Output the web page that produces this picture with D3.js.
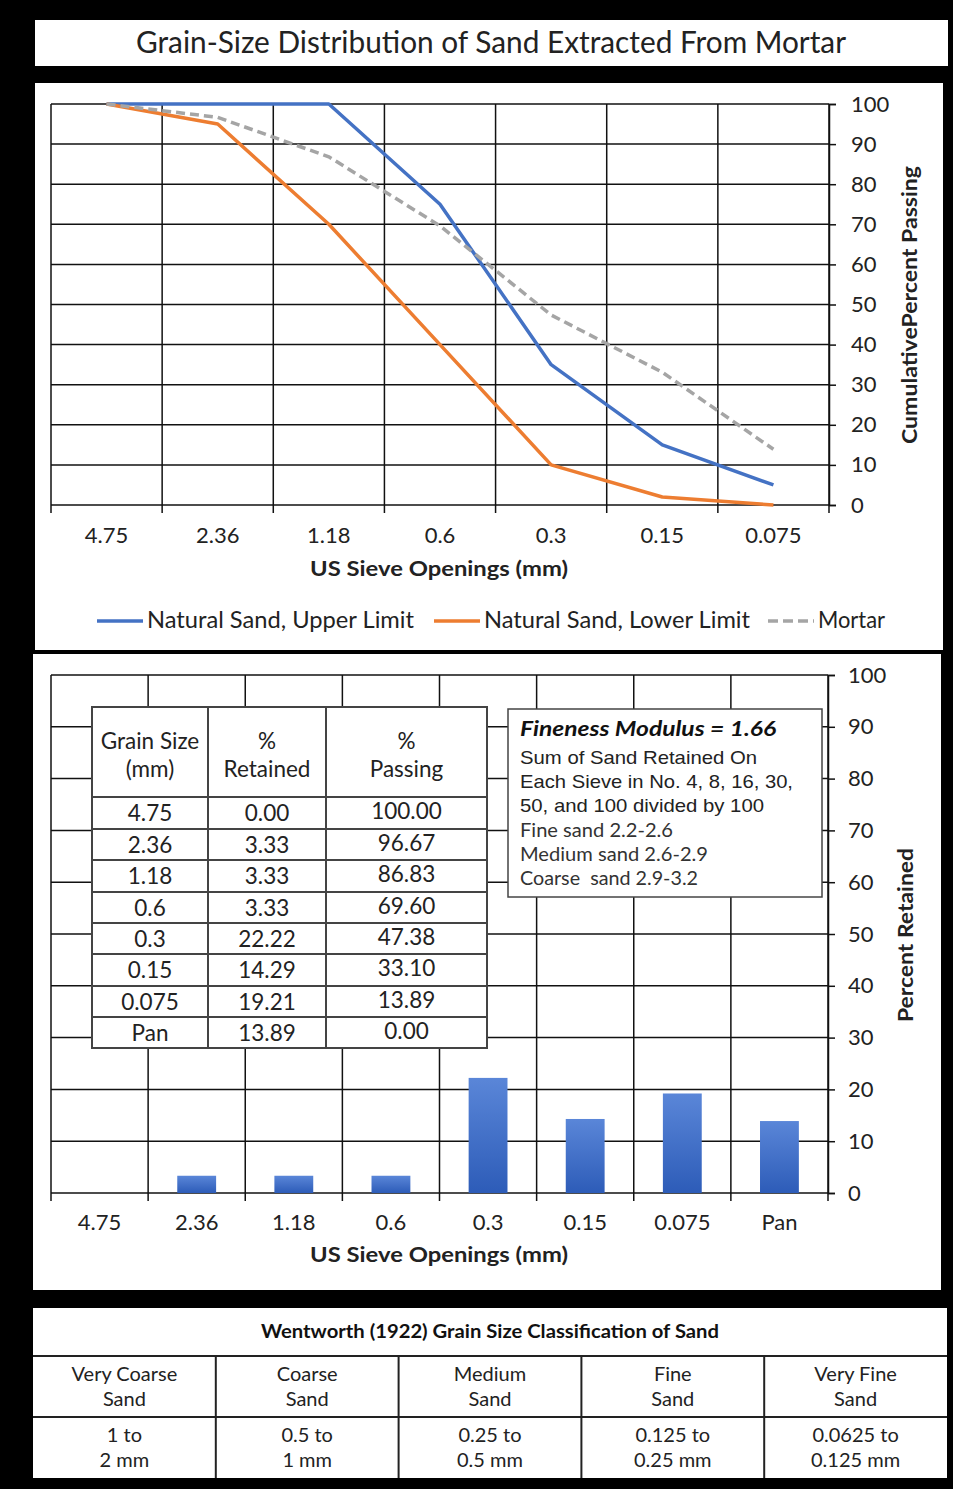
<!DOCTYPE html>
<html><head><meta charset="utf-8">
<script src="https://cdn.jsdelivr.net/npm/d3@7"></script>
<style>
html,body{margin:0;padding:0;background:#000;}
svg{display:block;}
</style></head>
<body>
<svg id="chart" width="953" height="1489" font-family="Lato, 'Open Sans', sans-serif"></svg>
<script>
// ---------- DATA ----------
const chartTitle = "Grain-Size Distribution of Sand Extracted From Mortar";
const sieves = ["4.75","2.36","1.18","0.6","0.3","0.15","0.075"];
const upperLimit = [100,100,100,75,35,15,5];
const lowerLimit = [100,95,70,40,10,2,0];
const mortarPassing = [100,96.67,86.83,69.60,47.38,33.10,13.89];
const seriesNames = ["Natural Sand, Upper Limit","Natural Sand, Lower Limit","Mortar"];
const retainedCats = ["4.75","2.36","1.18","0.6","0.3","0.15","0.075","Pan"];
const retained = [0.00,3.33,3.33,3.33,22.22,14.29,19.21,13.89];
const passing = [100.00,96.67,86.83,69.60,47.38,33.10,13.89,0.00];
const yTicks = [0,10,20,30,40,50,60,70,80,90,100];
const tableHeaders = [["Grain Size","(mm)"],["%","Retained"],["%","Passing"]];
const fmLines = ["Sum of Sand Retained On","Each Sieve in No. 4, 8, 16, 30,","50, and 100 divided by 100"];
const fmRanges = ["Fine sand 2.2-2.6","Medium sand 2.6-2.9","Coarse  sand 2.9-3.2"];
const finenessModulus = 1.66;
const wentworthTitle = "Wentworth (1922) Grain Size Classification of Sand";
const wentClasses = [["Very Coarse","Sand"],["Coarse","Sand"],["Medium","Sand"],["Fine","Sand"],["Very Fine","Sand"]];
const wentRanges = [["1 to","2 mm"],["0.5 to","1 mm"],["0.25 to","0.5 mm"],["0.125 to","0.25 mm"],["0.0625 to","0.125 mm"]];

// ---------- SETUP ----------
const svg = d3.select("#chart");
const ink = "#222";
const colors = {upper:"#4472c4", lower:"#ed7d31", mortar:"#a5a5a5"};

svg.append("rect").attr("x",35).attr("y",20).attr("width",913).attr("height",46).attr("fill","#fff");
svg.append("rect").attr("x",35).attr("y",83).attr("width",908).attr("height",567).attr("fill","#fff");
svg.append("rect").attr("x",33).attr("y",654).attr("width",908).attr("height",636).attr("fill","#fff");
svg.append("rect").attr("x",33).attr("y",1308).attr("width",914).attr("height",170).attr("fill","#fff");

svg.append("text").attr("x",491).attr("y",53).attr("text-anchor","middle").attr("fill",ink)
  .attr("font-size",30).attr("textLength",710).attr("lengthAdjust","spacingAndGlyphs")
  .text(chartTitle);

function styleAxis(a){
  a.select(".domain").attr("stroke","#111").attr("stroke-width",1.5);
  a.selectAll(".tick line").attr("stroke","#111").attr("stroke-width",1.5);
  a.selectAll("text").attr("font-size",22).attr("font-family","Lato").attr("fill",ink);
}

// ---------- TOP CHART ----------
const tx = d3.scaleBand().domain(sieves).range([51,829]);
const ty = d3.scaleLinear().domain([0,100]).range([505,104]);
const topG = svg.append("g");

topG.append("g").selectAll("line").data(yTicks).join("line")
  .attr("x1",tx.range()[0]).attr("x2",tx.range()[1])
  .attr("y1",d=>ty(d)).attr("y2",d=>ty(d))
  .attr("stroke","#111").attr("stroke-width",1.5);
const tBounds = sieves.map(s=>tx(s)).concat([tx.range()[1]]);
topG.append("g").selectAll("line").data(tBounds).join("line")
  .attr("x1",d=>d).attr("x2",d=>d).attr("y1",ty(100)).attr("y2",ty(0)+8)
  .attr("stroke","#111").attr("stroke-width",1.5);
const tAxis = topG.append("g").attr("transform",`translate(${tx.range()[1]},0)`)
  .call(d3.axisRight(ty).tickValues(yTicks).tickSize(7).tickPadding(15));
styleAxis(tAxis);
topG.append("g").selectAll("text").data(sieves).join("text")
  .attr("x",d=>tx(d)+tx.bandwidth()/2).attr("y",543).attr("text-anchor","middle").attr("fill",ink)
  .attr("font-size",22).text(d=>d);
topG.append("text").attr("x",439).attr("y",576).attr("text-anchor","middle").attr("fill",ink)
  .attr("font-size",21).attr("font-weight","bold").attr("textLength",258).attr("lengthAdjust","spacingAndGlyphs")
  .text("US Sieve Openings (mm)");
topG.append("text").attr("transform","translate(917,305) rotate(-90)").attr("text-anchor","middle").attr("fill",ink)
  .attr("font-size",21).attr("font-weight","bold").attr("textLength",278).attr("lengthAdjust","spacingAndGlyphs")
  .text("CumulativePercent Passing");

const line = d3.line().x((d,i)=>tx(sieves[i])+tx.bandwidth()/2).y(d=>ty(d));
topG.append("path").attr("d",line(upperLimit)).attr("fill","none").attr("stroke",colors.upper).attr("stroke-width",3.5).attr("stroke-linejoin","round");
topG.append("path").attr("d",line(lowerLimit)).attr("fill","none").attr("stroke",colors.lower).attr("stroke-width",3.5).attr("stroke-linejoin","round");
topG.append("path").attr("d",line(mortarPassing)).attr("fill","none").attr("stroke",colors.mortar).attr("stroke-width",3.5).attr("stroke-dasharray","9,5");

const legendItems = [
  {name:seriesNames[0], color:colors.upper, dash:null, x:97, w:267},
  {name:seriesNames[1], color:colors.lower, dash:null, x:434, w:266},
  {name:seriesNames[2], color:colors.mortar, dash:"10,5", x:768, w:67}
];
const lg = topG.append("g").selectAll("g").data(legendItems).join("g");
lg.append("line").attr("x1",d=>d.x).attr("x2",d=>d.x+46).attr("y1",621).attr("y2",621)
  .attr("stroke",d=>d.color).attr("stroke-width",3.5).attr("stroke-dasharray",d=>d.dash);
lg.append("text").attr("x",d=>d.x+50).attr("y",628).attr("font-size",23).attr("fill",ink)
  .attr("textLength",d=>d.w).attr("lengthAdjust","spacingAndGlyphs").text(d=>d.name);

// ---------- BOTTOM CHART ----------
const bx = d3.scaleBand().domain(retainedCats).range([51,828]);
const by = d3.scaleLinear().domain([0,100]).range([1193,675]);
const botG = svg.append("g");

const defs = svg.append("defs");
const grad = defs.append("linearGradient").attr("id","barGrad").attr("x1",0).attr("x2",0).attr("y1",0).attr("y2",1);
grad.append("stop").attr("offset","0%").attr("stop-color","#5a86d8");
grad.append("stop").attr("offset","100%").attr("stop-color","#2d5cb8");

botG.append("g").selectAll("line").data(yTicks).join("line")
  .attr("x1",bx.range()[0]).attr("x2",bx.range()[1])
  .attr("y1",d=>by(d)).attr("y2",d=>by(d))
  .attr("stroke","#111").attr("stroke-width",1.5);
const bBounds = retainedCats.map(s=>bx(s)).concat([bx.range()[1]]);
botG.append("g").selectAll("line").data(bBounds).join("line")
  .attr("x1",d=>d).attr("x2",d=>d).attr("y1",by(100)).attr("y2",by(0)+8)
  .attr("stroke","#111").attr("stroke-width",1.5);
const bAxis = botG.append("g").attr("transform",`translate(${bx.range()[1]},0)`)
  .call(d3.axisRight(by).tickValues(yTicks).tickSize(7).tickPadding(13));
styleAxis(bAxis);

botG.append("g").selectAll("rect").data(retained).join("rect")
  .attr("x",(d,i)=>bx(retainedCats[i])+bx.bandwidth()*0.3)
  .attr("width",bx.bandwidth()*0.4)
  .attr("y",d=>by(d)).attr("height",d=>by(0)-by(d))
  .attr("fill","url(#barGrad)");

botG.append("g").selectAll("text").data(retainedCats).join("text")
  .attr("x",d=>bx(d)+bx.bandwidth()/2).attr("y",1230).attr("text-anchor","middle").attr("fill",ink)
  .attr("font-size",22).text(d=>d);
botG.append("text").attr("x",439).attr("y",1262).attr("text-anchor","middle").attr("fill",ink)
  .attr("font-size",21).attr("font-weight","bold").attr("textLength",258).attr("lengthAdjust","spacingAndGlyphs")
  .text("US Sieve Openings (mm)");
botG.append("text").attr("transform","translate(913,935) rotate(-90)").attr("text-anchor","middle").attr("fill",ink)
  .attr("font-size",21).attr("font-weight","bold").attr("textLength",174).attr("lengthAdjust","spacingAndGlyphs")
  .text("Percent Retained");

const tbl = botG.append("g");
const colX = [92,208,326,487];
const rowY = [797,829,860,892,923,954,986,1017,1048];
tbl.append("rect").attr("x",92).attr("y",707).attr("width",395).attr("height",341)
  .attr("fill","#fff").attr("stroke","#444").attr("stroke-width",2);
tbl.selectAll("line.c").data(colX.slice(1,3)).join("line").attr("class","c")
  .attr("x1",d=>d).attr("x2",d=>d).attr("y1",707).attr("y2",1048).attr("stroke","#444").attr("stroke-width",2);
tbl.selectAll("line.r").data(rowY.slice(0,8)).join("line").attr("class","r")
  .attr("x1",92).attr("x2",487).attr("y1",d=>d).attr("y2",d=>d).attr("stroke","#444").attr("stroke-width",2);
const colC = [0,1,2].map(i=>(colX[i]+colX[i+1])/2);
const tfs = 22.5;
tableHeaders.forEach((h,i)=>{
  tbl.append("text").attr("x",colC[i]).attr("y",749).attr("text-anchor","middle").attr("fill",ink).attr("font-size",tfs).text(h[0]);
  tbl.append("text").attr("x",colC[i]).attr("y",777).attr("text-anchor","middle").attr("fill",ink).attr("font-size",tfs).text(h[1]);
});
retainedCats.forEach((c,i)=>{
  const yc = (rowY[i]+rowY[i+1])/2 + 8;
  tbl.append("text").attr("x",colC[0]).attr("y",yc).attr("text-anchor","middle").attr("fill",ink).attr("font-size",tfs).text(c);
  tbl.append("text").attr("x",colC[1]).attr("y",yc).attr("text-anchor","middle").attr("fill",ink).attr("font-size",tfs).text(retained[i].toFixed(2));
  tbl.append("text").attr("x",colC[2]).attr("y",yc-2).attr("text-anchor","middle").attr("fill",ink).attr("font-size",tfs).text(passing[i].toFixed(2));
});

const fm = botG.append("g");
fm.append("rect").attr("x",508).attr("y",709).attr("width",314).attr("height",188)
  .attr("fill","#fff").attr("stroke","#444").attr("stroke-width",1.5);
fm.append("text").attr("x",520).attr("y",736).attr("font-size",21).attr("font-weight","bold").attr("font-style","italic")
  .attr("fill","#111").attr("textLength",256).attr("lengthAdjust","spacingAndGlyphs")
  .text(`Fineness Modulus = ${finenessModulus.toFixed(2)}`);
const fmLineW = [237,273,244];
fmLines.forEach((t,i)=>{
  fm.append("text").attr("x",520).attr("y",764+i*24).attr("font-size",19).attr("fill",ink)
    .attr("font-family","'Liberation Sans', Arial, sans-serif")
    .attr("textLength",fmLineW[i]).attr("lengthAdjust","spacingAndGlyphs").text(t);
});
const fmRangeW = [153,188,178];
fmRanges.forEach((t,i)=>{
  fm.append("text").attr("x",520).attr("y",837+i*24).attr("font-size",19.5).attr("fill","#333")
    .style("white-space","pre").attr("textLength",fmRangeW[i]).attr("lengthAdjust","spacingAndGlyphs").text(t);
});

// ---------- WENTWORTH TABLE ----------
const wt = svg.append("g");
const wx = d3.scaleBand().domain(d3.range(wentClasses.length)).range([33,947]);
wt.append("text").attr("x",490).attr("y",1338).attr("text-anchor","middle").attr("font-size",19).attr("fill","#111")
  .attr("font-weight","bold").attr("textLength",458).attr("lengthAdjust","spacingAndGlyphs").text(wentworthTitle);
[1356,1417].forEach(y=>wt.append("line").attr("x1",33).attr("x2",947).attr("y1",y).attr("y2",y).attr("stroke","#222").attr("stroke-width",2));
d3.range(1,wentClasses.length).forEach(i=>wt.append("line").attr("x1",wx(i)).attr("x2",wx(i)).attr("y1",1356).attr("y2",1478).attr("stroke","#222").attr("stroke-width",2));
wentClasses.forEach((c,i)=>{
  const cx = wx(i)+wx.bandwidth()/2;
  wt.append("text").attr("x",cx).attr("y",1381).attr("text-anchor","middle").attr("fill",ink).attr("font-size",20).text(c[0]);
  wt.append("text").attr("x",cx).attr("y",1406).attr("text-anchor","middle").attr("fill",ink).attr("font-size",20).text(c[1]);
  wt.append("text").attr("x",cx).attr("y",1442).attr("text-anchor","middle").attr("fill",ink).attr("font-size",20).text(wentRanges[i][0]);
  wt.append("text").attr("x",cx).attr("y",1467).attr("text-anchor","middle").attr("fill",ink).attr("font-size",20).text(wentRanges[i][1]);
});
</script>
</body></html>
